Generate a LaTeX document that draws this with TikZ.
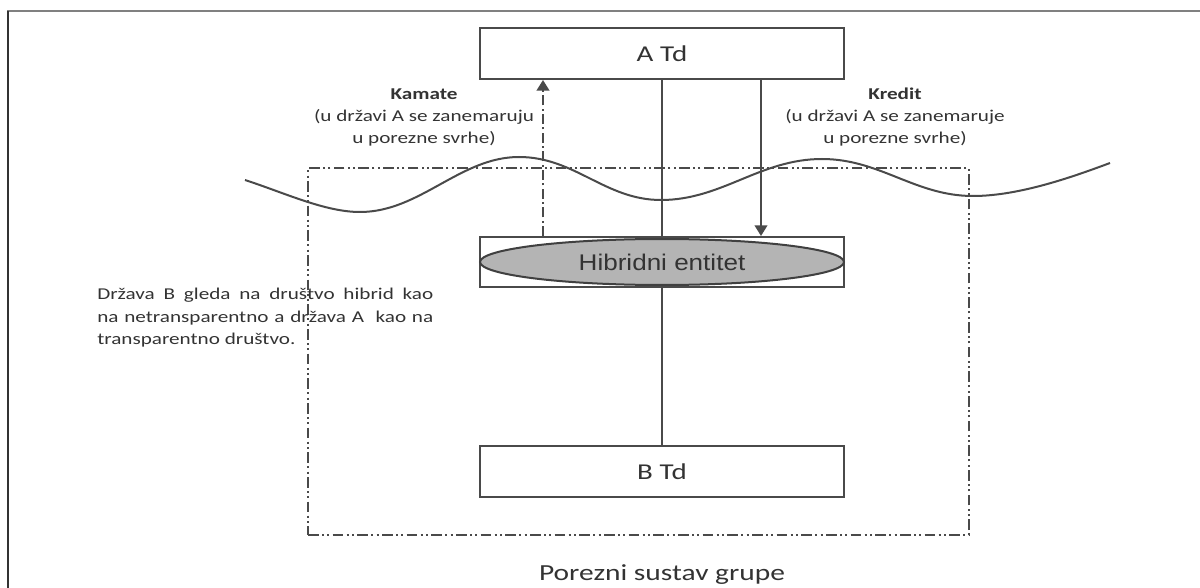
\documentclass[tikz,border=0pt]{standalone}
\usepackage{fontspec}
\setmainfont{Carlito}[FakeStretch=1.28]
\newfontfamily\arialf{Liberation Sans}[FakeStretch=1.15]
\usetikzlibrary{shapes.geometric,arrows.meta}
\definecolor{txt}{HTML}{333333}
\definecolor{ln}{HTML}{4A4A4A}
\definecolor{ellfill}{HTML}{B4B4B4}
\definecolor{topframe}{HTML}{808080}
\definecolor{leftframe}{HTML}{333333}
\begin{document}
\begin{tikzpicture}[x=0.75pt,y=-0.75pt,
  box/.style={draw=ln, line width=1.5pt, fill=white, minimum width=273pt, inner sep=0pt, text=txt,
              font=\fontsize{17}{20}\selectfont},
  ellbox/.style={ellipse, draw=black!75, line width=1.5pt, fill=ellfill, minimum width=273pt,
              minimum height=34.5pt, inner sep=0pt, text=txt, font=\arialf\fontsize{17}{20}\selectfont},
  conn/.style={draw=ln, line width=1.4pt},
  solidarrow/.style={draw=ln, line width=1.4pt, -{Triangle[length=8pt,width=9.5pt]}},
  dasharrow/.style={draw=ln, line width=1.5pt, dash pattern=on 7.5pt off 2.5pt on 1.5pt off 2.5pt,
              -{Triangle[length=8pt,width=9.5pt]}},
  grpbox/.style={draw=ln, line width=1.6pt,
              dash pattern=on 8pt off 2.5pt on 1.5pt off 2.5pt on 1.5pt off 2.5pt,
              minimum width=495.75pt, minimum height=275.25pt, inner sep=0pt},
  lbl/.style={text=txt, inner sep=0pt, font=\fontsize{12.4}{16.5}\selectfont},
  wave/.style={draw=ln, line width=1.5pt}
]
\useasboundingbox (0,0) rectangle (1200,588);
% outer frame (top and left only)
\draw[topframe, line width=1.5pt] (7,11.5) -- (1200,11.5);
\draw[leftframe, line width=1.5pt] (7.5,11) -- (7.5,588);

% group frame
\node[grpbox] (grp) at (638.5,351.5) {};

% wave (border between states)
\draw[wave] (245,180) .. controls (285,193) and (325,212) .. (360,212)
  .. controls (420,212) and (460,157) .. (519,157)
  .. controls (575,157) and (605,200) .. (661,200)
  .. controls (722,200) and (760,159) .. (822,159)
  .. controls (880,159) and (915,196) .. (973,196)
  .. controls (1020,196) and (1075,176) .. (1110,163);

% boxes
\node[box, minimum height=38.25pt] (atd) at (662,53.5) {A Td};
\node[box, minimum height=37.5pt] (hbox) at (662,262) {};
\node[ellbox] (hyb) at (662,262) {Hibridni entitet};
\node[box, minimum height=38.25pt] (btd) at (662,471.5) {B Td};

% connectors
\coordinate (kx) at (543,0);
\coordinate (cx) at (761,0);
\draw[dasharrow] (hbox.north -| kx) -- (atd.south -| kx);
\draw[solidarrow] (atd.south -| cx) -- (hbox.north -| cx);
\draw[conn] (atd.south) -- (hbox.north);
\draw[conn] (hbox.south) -- (btd.north);

% labels
\node[lbl, align=center] (kam) at (424,117) {\textbf{Kamate}\\(u državi A se zanemaruju\\u porezne svrhe)};
\node[lbl, align=center] (kre) at (895,117) {\textbf{Kredit}\\(u državi A se zanemaruje\\u porezne svrhe)};
\node[lbl, anchor=west, align=left, font=\fontsize{12.4}{16.9}\selectfont] (drz) at (97,318)
  {\makebox[252pt][s]{Država B gleda na društvo hibrid kao}\\
   \makebox[252pt][s]{na netransparentno a država A\ \ kao na}\\
   transparentno društvo.};
\node[lbl, font=\fontsize{17.25}{20}\selectfont] (por) at (662,575) {Porezni sustav grupe};
\end{tikzpicture}
\end{document}
